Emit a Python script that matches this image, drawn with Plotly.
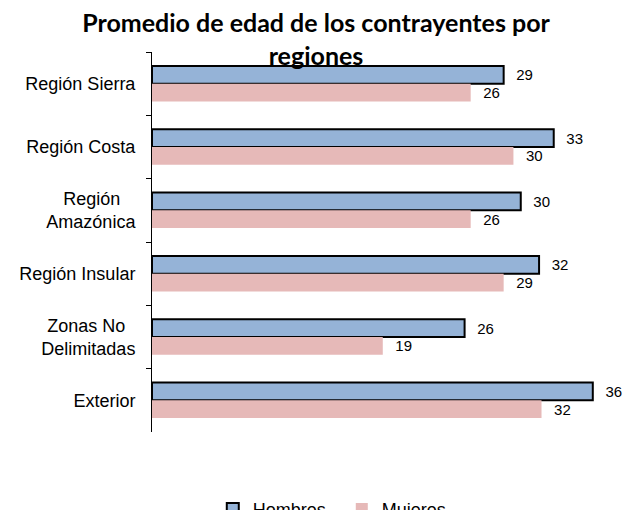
import plotly.graph_objects as go

categories = ["Región Sierra", "Región Costa", "Región\u00a0\u00a0\u00a0<br>Amazónica",
              "Región Insular", "Zonas No\u00a0\u00a0<br>Delimitadas", "Exterior"]
hombres = [28.8, 32.9, 30.2, 31.7, 25.6, 36.1]
mujeres = [26.1, 29.6, 26.1, 28.8, 18.9, 31.9]
series_names = ["Hombres", "Mujeres"]
title_text = "Promedio de edad de los contrayentes por<br>regiones"

label_tpl = "\u00a0\u00a0\u200a%{x:.0f}"

fig = go.Figure()
fig.add_trace(go.Bar(
    y=categories, x=hombres, name=series_names[0], orientation="h",
    marker=dict(color="#95B3D7", line=dict(color="black", width=2)),
    texttemplate=label_tpl, textposition="outside", cliponaxis=False,
    textfont=dict(family="Liberation Sans, Arial", size=15, color="black"),
))
fig.add_trace(go.Bar(
    y=categories, x=mujeres, name=series_names[1], orientation="h",
    marker=dict(color="#E6B9B8", line=dict(width=0)),
    texttemplate=label_tpl, textposition="outside", cliponaxis=False,
    textfont=dict(family="Liberation Sans, Arial", size=15, color="black"),
))

fig.update_layout(
    width=624, height=510,
    margin=dict(l=152, r=8, t=52, b=78, autoexpand=False),
    paper_bgcolor="white", plot_bgcolor="white",
    barmode="group", bargap=0.44, bargroupgap=0,
    title=dict(text=title_text, x=316/624, xanchor="center", xref="container",
               y=1 - 32/510, yanchor="top", yref="container",
               font=dict(family="Lato", size=25, color="black", weight="bold")),
    xaxis=dict(range=[0, 38], visible=False, showgrid=False, zeroline=False,
               automargin=False),
    yaxis=dict(autorange="reversed", showline=True, linecolor="black", linewidth=1,
               ticks="outside", ticklen=5, tickcolor="black", tickson="boundaries",
               ticklabelstandoff=12, showgrid=False, automargin=False,
               tickfont=dict(family="Liberation Sans, Arial", size=18, color="black")),
    showlegend=True,
    legend=dict(orientation="h", x=0.131, xanchor="left", y=-0.155, yanchor="top",
                entrywidth=84, entrywidthmode="pixels",
                font=dict(family="Liberation Sans, Arial", size=18, color="black"),
                traceorder="normal"),
    font=dict(family="Liberation Sans, Arial"),
)

fig.write_html(
    "out.html",
    config={"displayModeBar": False},
    post_script="document.body.style.margin='0';document.body.style.overflow='hidden';",
)
